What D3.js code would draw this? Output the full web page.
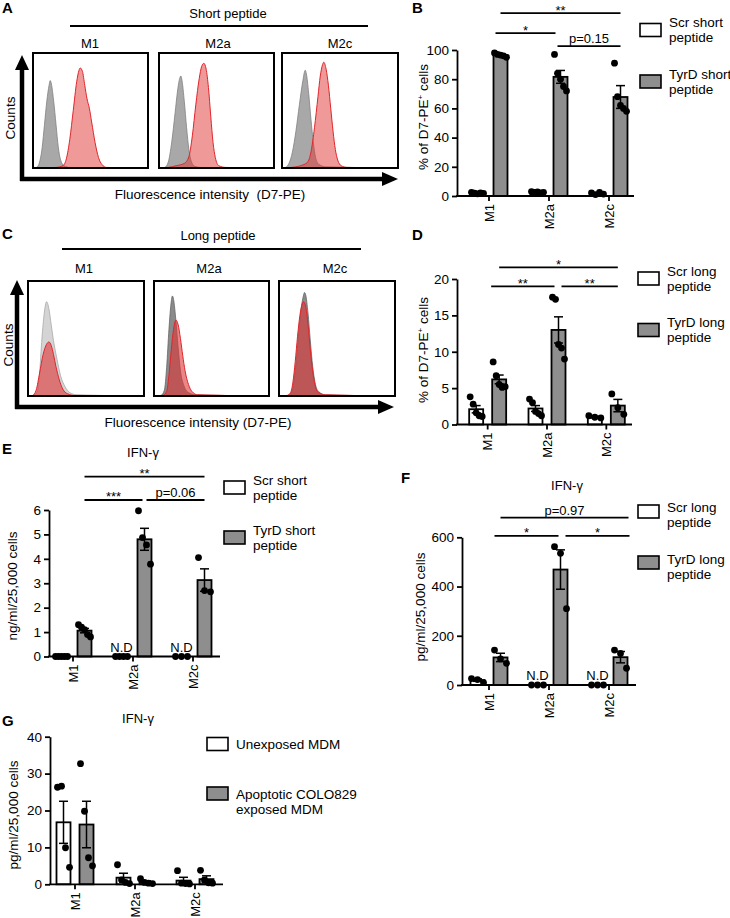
<!DOCTYPE html>
<html><head><meta charset="utf-8">
<script src="https://cdn.jsdelivr.net/npm/d3@7"></script>
<style>body{margin:0;background:#fff}</style>
</head><body>
<script>
const FONT = "'Liberation Sans', Arial, Helvetica, sans-serif";
const categories = ["M1", "M2a", "M2c"];

// ---------- Flow histograms (x: fluorescence 0-100 across box, y: relative counts 0-100 of box height)
const shortGray = [
  [[0,0],[3,0.5],[5,3],[8,18],[10,38],[12,58],[14,72],[15,76],[16,73],[18,58],[20,38],[22,18],[24,7],[27,2],[32,0.5],[100,0]],
  [[0,0],[5,0.5],[8,5],[11,22],[14,48],[16,66],[18,78],[19,80],[20,76],[22,58],[24,35],[26,16],[28,6],[31,1.5],[36,0.5],[100,0]],
  [[0,0],[3,0.5],[6,4],[9,14],[12,32],[15,55],[18,76],[20,85],[21,82],[23,65],[25,42],[27,22],[29,9],[32,3],[38,1],[100,0]]
];
const shortRed = [
  [[0,0],[20,0.5],[26,2],[29,8],[32,25],[35,50],[38,75],[40,85],[41,87],[43,84],[45,72],[47,60],[49,52],[51,40],[54,22],[57,9],[60,3],[64,0.5],[100,0]],
  [[0,0],[8,0.5],[15,2],[22,4],[26,10],[29,28],[32,55],[35,78],[37,88],[39,91],[41,86],[43,70],[45,45],[47,22],[49,9],[52,2],[58,0.5],[100,0]],
  [[0,0],[8,0.5],[16,2],[22,5],[25,14],[28,35],[31,62],[33,80],[35,90],[36,92],[38,86],[40,72],[42,52],[44,32],[46,16],[48,7],[51,2],[56,0.5],[100,0]]
];
const longGray = [
  [[0,0],[5,0.5],[8,4],[10,20],[12,50],[14,72],[16,82],[18,76],[20,62],[22,48],[25,32],[28,18],[32,8],[36,3],[42,1],[100,0]],
  [[0,0],[6,0.5],[9,5],[11,25],[13,58],[15,82],[16,87],[17,84],[19,66],[21,42],[23,22],[26,9],[30,3],[36,1],[100,0]],
  [[0,0],[8,0.5],[11,4],[13,14],[15,32],[17,55],[19,75],[21,87],[22,90],[23,88],[25,72],[27,48],[29,26],[31,12],[34,4],[40,1],[100,0]]
];
const longRed = [
  [[0,0],[4,0.5],[7,5],[10,20],[13,36],[16,45],[18,47],[20,44],[22,36],[24,26],[27,14],[30,6],[34,2],[40,0.5],[100,0.3]],
  [[0,0],[8,0.5],[11,4],[13,18],[15,40],[17,58],[19,66],[21,62],[23,50],[25,35],[27,22],[30,10],[33,4],[38,1],[100,0]],
  [[0,0],[7,0.5],[10,3],[12,12],[14,30],[16,52],[18,70],[20,80],[21,82],[23,78],[25,62],[27,40],[29,22],[31,10],[34,3],[40,1],[100,0]]
];

// ---------- Bar panels: [series][category]
const bMeans = [[2.0, 2.6, 1.7], [96.5, 81.6, 67.8]];
const bSem   = [[0.3, 0.2, 0.4], [0.5, 4.4, 7.8]];
const bDots  = [[[2.5,2.0,1.5,2.2,1.8],[3.0,2.5,2.8,2.2,2.5],[2.2,1.0,2.4,1.3]],
                [[98,97,96.5,96,95],[97,84,80,75,72],[91,68,62,60,58]]];
const dMeans = [[2.1, 2.2, 1.0], [6.2, 13.0, 2.6]];
const dSem   = [[0.5, 0.4, 0.1], [0.6, 1.8, 0.85]];
const dDots  = [[[3.8,2.8,1.6,1.2,1.1],[3.5,3.0,1.8,1.5,1.2],[1.2,1.0,0.9]],
                [[8.6,6.7,5.5,5.1,5.2],[17.5,17.2,11.0,10.5,9.0],[4.2,2.3,1.4]]];
const eMeans = [[0, 0, 0], [1.06, 4.80, 3.13]];
const eSem   = [[0, 0, 0], [0.09, 0.45, 0.46]];
const eDots  = [[[0,0,0,0,0],[0,0,0,0],[0,0,0]],
                [[1.3,1.2,1.1,0.9,0.8],[5.97,4.87,4.57,3.78],[4.05,2.7,2.65]]];
const fMeans = [[20, 0, 0], [112, 469, 113]];
const fSem   = [[5, 0, 0], [17, 80, 23]];
const fDots  = [[[26,22,10],[0,0,0],[0,0,0]],
                [[142,106,88],[562,535,310],[142,128,68]]];
const gMeans = [[16.8, 1.8, 1.0], [16.2, 0.6, 1.4]];
const gSem   = [[5.7, 1.2, 0.9], [6.3, 0.3, 0.9]];
const gDots  = [[[26.3,26.6,9.9,4.6],[5.3,1.2,0.5,0.2],[3.7,0.3,0.2,0.1]],
                [[32.7,19.8,7.2,5.0],[1.5,0.5,0.3,0.2],[3.8,1.2,0.4,0.3]]];

const bTicks = [0,20,40,60,80,100];
const dTicks = [0,5,10,15,20];
const eTicks = [0,1,2,3,4,5,6];
const fTicks = [0,200,400,600];
const gTicks = [0,10,20,30,40];

const GRAY = "#8e8e8e";
const svg = d3.select("body").append("svg").attr("width",730).attr("height",918)
  .style("font-family", FONT);

function text(g, x, y, s, o = {}) {
  const t = g.append("text").attr("x", x).attr("y", y).text(s)
    .attr("font-size", o.size || 13).attr("fill", "#000")
    .attr("text-anchor", o.anchor || "start");
  if (o.bold) t.attr("font-weight", "bold");
  if (o.rotate) t.attr("transform", `rotate(-90,${x},${y})`);
  if (o.dy) t.attr("dy", o.dy);
  return t;
}

// ---------- histogram panels
function histPanel(o) {
  const g = svg.append("g");
  text(g, 2, o.letterY, o.letter, {size: 15, bold: true});
  text(g, o.titleX, o.titleY, o.title, {anchor: "middle", size: 13});
  g.append("line").attr("x1", o.lineX[0]).attr("x2", o.lineX[1]).attr("y1", o.lineY).attr("y2", o.lineY)
    .attr("stroke", "#000").attr("stroke-width", 2);
  o.boxes.forEach((b, i) => {
    text(g, o.labelX[i], o.labelY, categories[i], {anchor: "middle", size: 13});
    const hx = d3.scaleLinear().domain([0,100]).range([b[0], b[1]]);
    const hy = d3.scaleLinear().domain([0,100]).range([o.bottom, o.top]);
    const area = d3.area().x(d => hx(d[0])).y0(hy(0)).y1(d => hy(d[1])).curve(d3.curveMonotoneX);
    const line = d3.line().x(d => hx(d[0])).y(d => hy(d[1])).curve(d3.curveMonotoneX);
    g.append("path").datum(o.gray[i]).attr("d", area).attr("fill", o.grayFill[i]);
    g.append("path").datum(o.gray[i]).attr("d", line).attr("fill", "none").attr("stroke", o.grayStroke[i]).attr("stroke-width", 0.8);
    g.append("path").datum(o.red[i]).attr("d", area).attr("fill", "#e03434").attr("fill-opacity", o.redOpacity);
    g.append("path").datum(o.red[i]).attr("d", line).attr("fill", "none").attr("stroke", "#e0262b").attr("stroke-width", 1);
    g.append("rect").attr("x", b[0]).attr("y", o.top).attr("width", b[1]-b[0]).attr("height", o.bottom-o.top)
      .attr("fill", "none").attr("stroke", "#000").attr("stroke-width", 2);
  });
  // arrows
  const ax = o.arrowX, ay = o.arrowY;
  g.append("line").attr("x1", ax).attr("x2", ax).attr("y1", ay + 2).attr("y2", o.arrowTop + 12)
    .attr("stroke", "#000").attr("stroke-width", 4.5);
  g.append("path").attr("d", `M${ax},${o.arrowTop} L${ax-7},${o.arrowTop+15} L${ax+7},${o.arrowTop+15} Z`).attr("fill", "#000");
  g.append("line").attr("x1", ax - 2).attr("x2", o.arrowRight - 12).attr("y1", ay).attr("y2", ay)
    .attr("stroke", "#000").attr("stroke-width", 4.5);
  g.append("path").attr("d", `M${o.arrowRight},${ay} L${o.arrowRight-16},${ay-7} L${o.arrowRight-16},${ay+7} Z`).attr("fill", "#000");
  text(g, o.countsX, o.countsY, "Counts", {anchor: "middle", rotate: true, dy: "0.35em", size: 13.5});
  text(g, o.fluoX, o.fluoY, o.fluoText, {anchor: "middle", size: 13.5});
}

histPanel({
  letter: "A", letterY: 13, title: "Short peptide", titleX: 228, titleY: 18,
  lineX: [70, 368], lineY: 26, labelX: [90, 218, 340], labelY: 48,
  boxes: [[33,148],[159,274],[282,398]], top: 53, bottom: 168,
  gray: shortGray, red: shortRed,
  grayFill: ["#a8a8a8","#a8a8a8","#a8a8a8"], grayStroke: ["#808080","#808080","#808080"], redOpacity: 0.5,
  arrowX: 22, arrowY: 179, arrowTop: 55, arrowRight: 398,
  countsX: 10, countsY: 118, fluoX: 210, fluoY: 199, fluoText: "Fluorescence intensity\u00a0 (D7-PE)"
});
histPanel({
  letter: "C", letterY: 239, title: "Long peptide", titleX: 218, titleY: 240,
  lineX: [62, 361], lineY: 249, labelX: [84, 209, 335], labelY: 273,
  boxes: [[28,144],[154,269],[279,395]], top: 281, bottom: 396,
  gray: longGray, red: longRed,
  grayFill: ["#d4d4d4","#8a8a8a","#8a8a8a"], grayStroke: ["#a8a8a8","#666","#666"], redOpacity: 0.6,
  arrowX: 17, arrowY: 407, arrowTop: 280, arrowRight: 394,
  countsX: 8, countsY: 345, fluoX: 198, fluoY: 427, fluoText: "Fluorescence intensity (D7-PE)"
});

// ---------- bar panels
function barPanel(p) {
  const g = svg.append("g");
  const x = d3.scaleBand().domain(categories).range(p.xRange);
  const xs = d3.scaleBand().domain([0,1]).range([-23, 23]);
  const y = d3.scaleLinear().domain([0, p.yMax]).range([p.y0, p.yTop]);
  const cx = (ci, si) => x(categories[ci]) + x.bandwidth()/2 + xs(si) + xs.bandwidth()/2;
  const BW = 14;
  const flat = [];
  p.means.forEach((arr, si) => arr.forEach((m, ci) =>
    flat.push({si, ci, m, sem: p.sems[si][ci], dots: p.dots[si][ci]})));

  if (p.letter) text(g, p.letterX, p.letterY, p.letter, {size: 15, bold: true});
  if (p.title) text(g, p.titleX, p.titleY, p.title, {anchor: "middle", size: 13});

  // bars
  g.selectAll("rect.bar").data(flat).join("rect").attr("class", "bar")
    .attr("x", d => cx(d.ci, d.si) - BW/2).attr("y", d => y(d.m))
    .attr("width", BW).attr("height", d => y(0) - y(d.m))
    .attr("fill", d => d.si ? GRAY : "#fff").attr("stroke", "#000").attr("stroke-width", 1.8);
  // error bars
  flat.filter(d => d.sem > 0).forEach(d => {
    const c = cx(d.ci, d.si);
    const lo = y(Math.max(0, d.m - d.sem)), hi = y(d.m + d.sem);
    g.append("line").attr("x1", c).attr("x2", c).attr("y1", lo).attr("y2", hi).attr("stroke", "#000").attr("stroke-width", 1.5);
    g.append("line").attr("x1", c-4.5).attr("x2", c+4.5).attr("y1", hi).attr("y2", hi).attr("stroke", "#000").attr("stroke-width", 1.5);
    if (d.m - d.sem > 0)
      g.append("line").attr("x1", c-4.5).attr("x2", c+4.5).attr("y1", lo).attr("y2", lo).attr("stroke", "#000").attr("stroke-width", 1.5);
  });
  // dots
  flat.forEach(d => {
    const n = d.dots.length;
    d.dots.forEach((v, i) => {
      const off = n > 1 ? (i - (n-1)/2) * (12/(n-1)) : 0;
      g.append("circle").attr("cx", cx(d.ci, d.si) + off).attr("cy", y(v)).attr("r", 3.4).attr("fill", "#000");
    });
  });
  // y axis
  const ya = g.append("g").attr("transform", `translate(${p.axisX},0)`)
    .call(d3.axisLeft(y).tickValues(p.ticks).tickSize(5).tickSizeOuter(0).tickPadding(3).tickFormat(d3.format("d")));
  ya.select(".domain").attr("stroke-width", 1.8);
  ya.selectAll(".tick line").attr("stroke-width", 1.8);
  ya.selectAll(".tick text").attr("font-size", 13.5).attr("font-family", FONT).attr("fill", "#000");
  // x axis
  g.append("line").attr("x1", p.axisX - 0.9).attr("x2", p.xEnd).attr("y1", p.y0).attr("y2", p.y0)
    .attr("stroke", "#000").attr("stroke-width", 1.8);
  const xa = g.append("g").attr("transform", `translate(0,${p.y0})`)
    .call(d3.axisBottom(x).tickSize(5).tickSizeOuter(0));
  xa.select(".domain").remove();
  xa.selectAll(".tick line").attr("stroke-width", 1.8);
  xa.selectAll(".tick text").attr("font-size", 13).attr("font-family", FONT).attr("fill", "#000")
    .attr("transform", "rotate(-90)").attr("text-anchor", "end").attr("x", -8).attr("y", 0).attr("dy", "0.35em");
  // y label
  const yl = g.append("text").attr("transform", `translate(${p.ylabelX},${p.ylabelY}) rotate(-90)`)
    .attr("text-anchor", "middle").attr("dy", "0.35em").attr("font-size", 13.5).attr("fill", "#000");
  if (p.ylabelSup) {
    yl.append("tspan").text(p.ylabel[0]);
    yl.append("tspan").text("+").attr("font-size", 8).attr("dy", -5);
    yl.append("tspan").text(p.ylabel[1]).attr("dy", 5);
  } else yl.text(p.ylabel);
  // N.D labels
  (p.nd || []).forEach(([ci, si]) => text(g, cx(ci, si), p.y0 - 5, "N.D", {anchor: "middle", size: 13}));
  // significance
  (p.sigs || []).forEach(s => {
    const x1 = cx(s.from[0], s.from[1]) + (s.t1 || 0), x2 = cx(s.to[0], s.to[1]) + (s.t2 || 0);
    const ly = y(s.level);
    g.append("line").attr("x1", x1).attr("x2", x2).attr("y1", ly).attr("y2", ly).attr("stroke", "#000").attr("stroke-width", 1.8);
    const isStar = s.label[0] === "*";
    text(g, (x1 + x2)/2, isStar ? ly + 1.5 : ly - 3, s.label, {anchor: "middle", size: 13});
  });
  // legend
  p.legend.items.forEach((it, i) => {
    g.append("rect").attr("x", p.legend.x).attr("y", it.cy - 6.5).attr("width", 21).attr("height", 13)
      .attr("fill", i ? GRAY : "#fff").attr("stroke", "#000").attr("stroke-width", 1.6);
    it.lines.forEach((l, j) => {
      text(g, p.legend.x + 29, it.cy + it.dy0 + j*15, l, {size: 13.5, dy: "0.35em"});
    });
  });
}

barPanel({
  letter: "B", letterX: 412, letterY: 13,
  axisX: 457, y0: 196, yTop: 50, yMax: 100, ticks: bTicks, xRange: [459, 639], xEnd: 634,
  means: bMeans, sems: bSem, dots: bDots,
  ylabel: ["% of D7-PE", " cells"], ylabelSup: true, ylabelX: 423, ylabelY: 117,
  sigs: [{from:[0,1], to:[2,1], level:125.3, label:"**"},
         {from:[0,1], to:[1,1], level:111.6, label:"*", t1:-5, t2:-5},
         {from:[1,1], to:[2,1], level:102.7, label:"p=0.15", t1:-3}],
  legend: {x: 640, items: [{cy: 30, dy0: -7.5, lines: ["Scr short", "peptide"]},
                           {cy: 81.5, dy0: -7.5, lines: ["TyrD short", "peptide"]}]}
});
barPanel({
  letter: "D", letterX: 412, letterY: 240,
  axisX: 457, y0: 424.5, yTop: 279, yMax: 20, ticks: dTicks, xRange: [458, 636], xEnd: 632,
  means: dMeans, sems: dSem, dots: dDots,
  ylabel: ["% of D7-PE", " cells"], ylabelSup: true, ylabelX: 423, ylabelY: 350,
  sigs: [{from:[0,1], to:[2,1], level:21.6, label:"*"},
         {from:[0,1], to:[1,1], level:19.0, label:"**", t1:-8, t2:-4},
         {from:[1,1], to:[2,1], level:19.0, label:"**", t1:3}],
  legend: {x: 638, items: [{cy: 278.5, dy0: -7.5, lines: ["Scr long", "peptide"]},
                           {cy: 330, dy0: -7.5, lines: ["TyrD long", "peptide"]}]}
});
barPanel({
  letter: "E", letterX: 2, letterY: 454, title: "IFN-\u03b3", titleX: 143, titleY: 457,
  axisX: 49, y0: 656.5, yTop: 510, yMax: 6, ticks: eTicks, xRange: [43, 223], xEnd: 220,
  means: eMeans, sems: eSem, dots: eDots,
  ylabel: "ng/ml/25,000 cells", ylabelX: 12, ylabelY: 586,
  nd: [[1,0],[2,0]],
  sigs: [{from:[0,1], to:[2,1], level:7.37, label:"**"},
         {from:[0,1], to:[1,1], level:6.41, label:"***", t2:-2},
         {from:[1,1], to:[2,1], level:6.41, label:"p=0.06", t1:2}],
  legend: {x: 224, items: [{cy: 487.5, dy0: -7.5, lines: ["Scr short", "peptide"]},
                           {cy: 537.5, dy0: -7.5, lines: ["TyrD short", "peptide"]}]}
});
barPanel({
  letter: "F", letterX: 401, letterY: 483, title: "IFN-\u03b3", titleX: 567, titleY: 490,
  axisX: 462, y0: 685, yTop: 537.3, yMax: 600, ticks: fTicks, xRange: [459, 639], xEnd: 636,
  means: fMeans, sems: fSem, dots: fDots,
  ylabel: "pg/ml/25,000 cells", ylabelX: 420, ylabelY: 607,
  nd: [[1,0],[2,0]],
  sigs: [{from:[0,1], to:[2,1], level:680, label:"p=0.97", t2:8},
         {from:[0,1], to:[1,1], level:606, label:"*", t1:-6, t2:-2},
         {from:[1,1], to:[2,1], level:606, label:"*", t1:5, t2:9}],
  legend: {x: 638, items: [{cy: 511.5, dy0: -4.5, lines: ["Scr long", "peptide"]},
                           {cy: 562.5, dy0: -3.5, lines: ["TyrD long", "peptide"]}]}
});
barPanel({
  letter: "G", letterX: 2, letterY: 726, title: "IFN-\u03b3", titleX: 138, titleY: 723,
  axisX: 50, y0: 884.3, yTop: 736.7, yMax: 40, ticks: gTicks, xRange: [45, 225], xEnd: 223,
  means: gMeans, sems: gSem, dots: gDots,
  ylabel: "pg/ml/25,000 cells", ylabelX: 13, ylabelY: 815,
  legend: {x: 207, items: [{cy: 744, dy0: 0.5, lines: ["Unexposed MDM"]},
                           {cy: 793.5, dy0: 0.5, lines: ["Apoptotic COLO829", "exposed MDM"]}]}
});
</script>
</body></html>
